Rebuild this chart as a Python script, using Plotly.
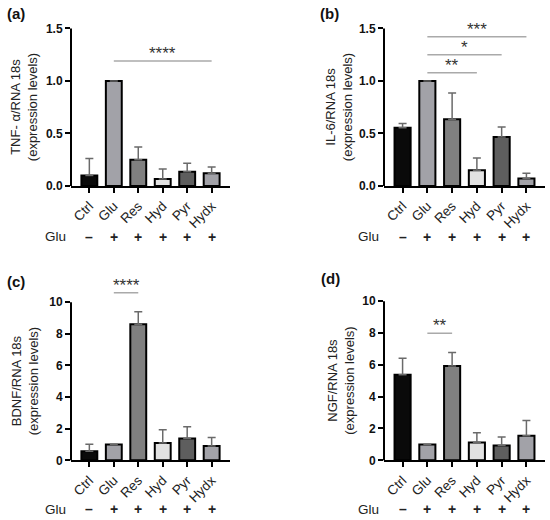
import plotly.graph_objects as go
from plotly.subplots import make_subplots

# groups and treatment row
groups = ["Ctrl", "Glu", "Res", "Hyd", "Pyr", "Hydx"]
glu_signs = ["–", "+", "+", "+", "+", "+"]
bar_colors = ["#0a0a0a", "#a2a2a8", "#808080", "#e2e2e2", "#5e5e5e", "#a2a2a8"]

# mean and SD (upper error only)
tnf_mean = [0.10, 1.0, 0.25, 0.065, 0.135, 0.12]
tnf_sd = [0.16, 0.0, 0.12, 0.095, 0.08, 0.06]
il6_mean = [0.555, 1.0, 0.635, 0.15, 0.465, 0.07]
il6_sd = [0.04, 0.0, 0.25, 0.115, 0.095, 0.05]
bdnf_mean = [0.57, 1.0, 8.6, 1.09, 1.38, 0.91]
bdnf_sd = [0.45, 0.0, 0.8, 0.85, 0.75, 0.54]
ngf_mean = [5.37, 1.0, 5.92, 1.12, 0.93, 1.54]
ngf_sd = [1.05, 0.0, 0.86, 0.61, 0.54, 0.96]

# significance brackets: (from, to, height, label)
tnf_sig = [("Glu", "Hydx", 1.19, "****")]
il6_sig = [("Glu", "Hyd", 1.077, "**"), ("Glu", "Pyr", 1.25, "*"), ("Glu", "Hydx", 1.42, "***")]
bdnf_sig = [("Glu", "Res", 10.6, "****")]
ngf_sig = [("Glu", "Res", 7.98, "**")]

y_titles = ["TNF- α/RNA 18s", "IL-6/RNA 18s", "BDNF/RNA 18s", "NGF/RNA 18s"]
panel_tags = ["(a)", "(b)", "(c)", "(d)"]
ticks_small = [0, 0.5, 1.0, 1.5]
ticks_big = [0, 2, 4, 6, 8, 10]

W, H = 550, 520


def py(y_px):
    # the photographed page comes out a bit squeezed vertically, undo that
    return (y_px - 8.7) / 0.967


panels = [
    # left/right px of the x axis, bottom px (value 0), px of the top tick
    dict(mean=tnf_mean, sd=tnf_sd, sig=tnf_sig, ticks=ticks_small, fmt=".1f",
         l=71, r=230, b=186.5, t=30, title_x=24, tag=(16, 15), row_y=237, glu_x=55),
    dict(mean=il6_mean, sd=il6_sd, sig=il6_sig, ticks=ticks_small, fmt=".1f",
         l=384, r=545, b=186.5, t=30, title_x=339, tag=(329, 15), row_y=237, glu_x=368),
    dict(mean=bdnf_mean, sd=bdnf_sd, sig=bdnf_sig, ticks=ticks_big, fmt="d",
         l=71, r=230, b=459.2, t=302, title_x=25, tag=(16, 281), row_y=508, glu_x=55),
    dict(mean=ngf_mean, sd=ngf_sd, sig=ngf_sig, ticks=ticks_big, fmt="d",
         l=384, r=545, b=459.2, t=301, title_x=341, tag=(330, 279), row_y=508, glu_x=368),
]

fig = make_subplots(rows=2, cols=2)
font = "Liberation Sans, Arial, sans-serif"

for i, p in enumerate(panels):
    n = "" if i == 0 else str(i + 1)
    row, col = i // 2 + 1, i % 2 + 1
    fig.add_trace(go.Bar(
        x=groups, y=p["mean"], width=0.65,
        marker=dict(color=bar_colors, line=dict(color="#000", width=2)),
        error_y=dict(type="data", symmetric=False, array=p["sd"],
                     arrayminus=[0] * len(groups), color="#6a6a6a", thickness=1.5, width=4),
        showlegend=False,
    ), row=row, col=col)

    top_tick = p["ticks"][-1]
    b, t = py(p["b"]), py(p["t"])
    ppu = (b - t) / top_tick
    ext = max(top_tick, max(s[2] for s in p["sig"]) + 0.02 * top_tick)
    dom_top = b - ext * ppu

    fig.layout["xaxis" + n].update(
        domain=[p["l"] / W, p["r"] / W], range=[-0.75, len(groups) - 0.25],
        showline=True, linewidth=2, linecolor="#000", ticks="outside", ticklen=5,
        tickwidth=2, tickcolor="#000", tickangle=-45, showgrid=False,
        tickfont=dict(family=font, size=13.5, color="#222"),
    )
    fig.layout["yaxis" + n].update(
        domain=[1 - b / H, 1 - dom_top / H], range=[0, ext],
        showline=False, ticks="outside", ticklen=5, tickwidth=2, tickcolor="#000",
        tickvals=p["ticks"], tickformat=p["fmt"], showgrid=False, zeroline=False,
        tickfont=dict(family=font, size=12, color="#111", weight="bold"),
    )
    # y axis line stops at the top tick
    fig.add_shape(type="line", xref="x" + n + " domain", yref="y" + n + " domain",
                  x0=0, x1=0, y0=0, y1=top_tick / ext, line=dict(color="#000", width=2))

    for g0, g1, h, lab in p["sig"]:
        i0, i1 = groups.index(g0), groups.index(g1)
        fig.add_shape(type="line", xref="x" + n, yref="y" + n, x0=i0, x1=i1, y0=h, y1=h,
                      line=dict(color="#aaa", width=1.5))
        fig.add_annotation(x=(i0 + i1) / 2, y=h, xref="x" + n, yref="y" + n, text=lab,
                           showarrow=False, xanchor="center", yanchor="bottom", yshift=-4,
                           font=dict(family=font, size=17, color="#333"))

    fig.add_annotation(x=p["title_x"] / W, y=1 - (b + t) / 2 / H, xref="paper", yref="paper",
                       text=y_titles[i] + "<br>(expression levels)", textangle=-90, showarrow=False,
                       xanchor="center", yanchor="middle",
                       font=dict(family=font, size=13, color="#222"))
    fig.add_annotation(x=p["tag"][0] / W, y=1 - py(p["tag"][1]) / H, xref="paper", yref="paper",
                       text="<b>" + panel_tags[i] + "</b>", showarrow=False,
                       xanchor="center", yanchor="middle",
                       font=dict(family=font, size=15, color="#111"))
    fig.add_annotation(x=p["glu_x"] / W, y=1 - py(p["row_y"]) / H, xref="paper", yref="paper",
                       text="Glu", showarrow=False, xanchor="center", yanchor="middle",
                       font=dict(family=font, size=13.5, color="#222"))
    for j, s in enumerate(glu_signs):
        fig.add_annotation(x=j, y=1 - py(p["row_y"]) / H, xref="x" + n, yref="paper",
                           text="<b>" + s + "</b>", showarrow=False,
                           xanchor="center", yanchor="middle",
                           font=dict(family=font, size=14, color="#222"))

fig.update_layout(
    width=W, height=H, margin=dict(l=0, r=0, t=0, b=0),
    plot_bgcolor="white", paper_bgcolor="white",
)

fig.write_html("out.html", config={"displayModeBar": False},
               post_script="document.body.style.margin = '0';")
